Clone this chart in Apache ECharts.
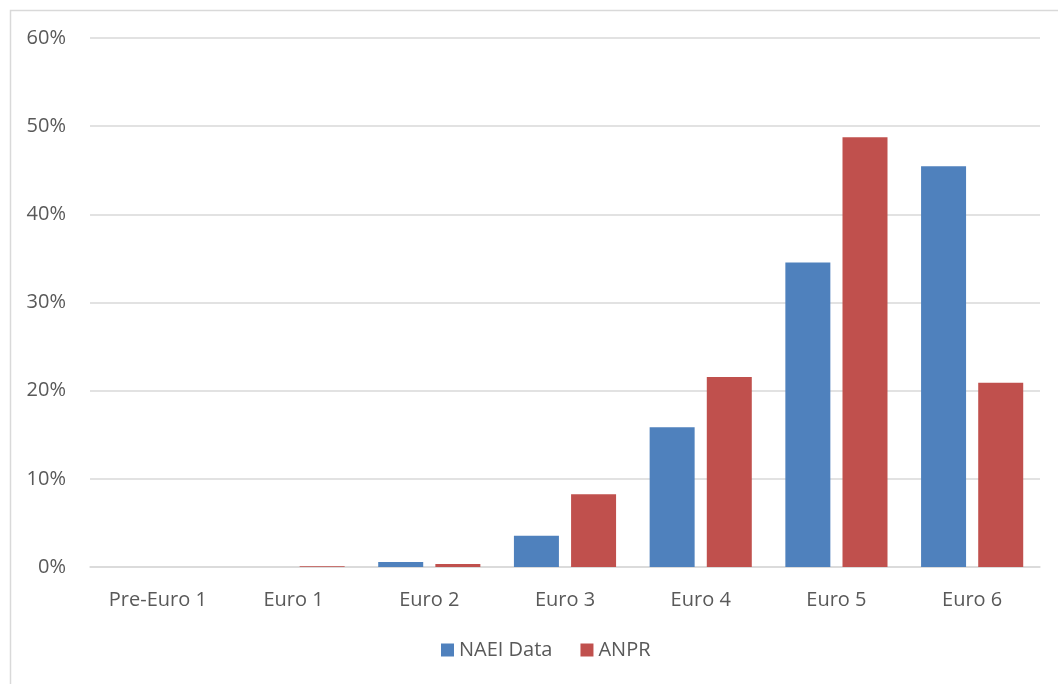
<!DOCTYPE html>
<html>
<head>
<meta charset="utf-8">
<script src="https://cdn.jsdelivr.net/npm/echarts@6/dist/echarts.min.js"></script>
<style>html,body{margin:0;padding:0;background:#fff}#c{width:1058px;height:684px}</style>
</head>
<body>
<div id="c"></div>
<script>
const categories = ['Pre-Euro 1', 'Euro 1', 'Euro 2', 'Euro 3', 'Euro 4', 'Euro 5', 'Euro 6'];
const naeiData = [0, 0, 0.57, 3.55, 15.85, 34.55, 45.45];
const anprData = [0, 0.08, 0.35, 8.25, 21.55, 48.75, 20.9];
const yTicks = [0, 10, 20, 30, 40, 50, 60];

const chart = echarts.init(document.getElementById('c'), null, {renderer: 'canvas'});
const font = '"Open Sans", "Liberation Sans", sans-serif';
chart.setOption({
  animation: false,
  textStyle: {fontFamily: font},
  graphic: [{
    type: 'rect', left: 8, top: 8, silent: true,
    shape: {width: 1070, height: 700},
    style: {fill: 'none', stroke: '#d9d9d9', lineWidth: 1.5}
  }],
  grid: {left: 90, right: 18, top: 38, bottom: 117, containLabel: false},
  legend: {
    bottom: 19, left: 436, itemWidth: 13, itemHeight: 13, itemGap: 28,
    icon: 'rect',
    textStyle: {color: '#595959', fontSize: 20, fontFamily: font},
    data: ['NAEI Data', 'ANPR']
  },
  xAxis: {
    type: 'category', data: categories,
    axisLine: {lineStyle: {color: '#d9d9d9', width: 1.5}},
    axisTick: {show: false},
    axisLabel: {color: '#595959', fontSize: 20, margin: 23, fontFamily: font}
  },
  yAxis: {
    type: 'value', min: yTicks[0], max: yTicks[yTicks.length - 1], interval: 10,
    axisLine: {show: false}, axisTick: {show: false},
    splitLine: {lineStyle: {color: '#d9d9d9', width: 1.5}},
    axisLabel: {color: '#595959', fontSize: 20, margin: 24, formatter: v => v + '%', fontFamily: font}
  },
  series: [
    {name: 'NAEI Data', type: 'bar', data: naeiData, barWidth: 45, barGap: '27%',
     itemStyle: {color: '#4F81BD'}},
    {name: 'ANPR', type: 'bar', data: anprData, barWidth: 45,
     itemStyle: {color: '#C0504D'}}
  ]
});
</script>
</body>
</html>
